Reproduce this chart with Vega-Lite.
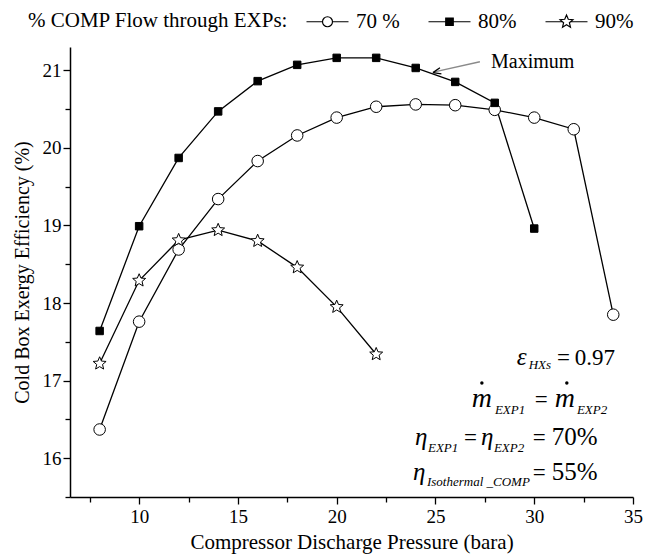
{
  "$schema": "https://vega.github.io/schema/vega-lite/v6.json",
  "width": 563,
  "height": 450,
  "autosize": {"type": "none"},
  "padding": {"left": 70, "top": 47, "right": 13, "bottom": 59},
  "background": "white",
  "config": {"view": {"stroke": null}, "font": "Liberation Serif, Times New Roman, Times, DejaVu Serif, serif"},
  "datasets": {
    "curves": [
      {"series": "70 %", "P": 8, "E": 16.37},
      {"series": "70 %", "P": 10, "E": 17.76},
      {"series": "70 %", "P": 12, "E": 18.69},
      {"series": "70 %", "P": 14, "E": 19.34},
      {"series": "70 %", "P": 16, "E": 19.83},
      {"series": "70 %", "P": 18, "E": 20.16},
      {"series": "70 %", "P": 20, "E": 20.39},
      {"series": "70 %", "P": 22, "E": 20.53},
      {"series": "70 %", "P": 24, "E": 20.56},
      {"series": "70 %", "P": 26, "E": 20.55},
      {"series": "70 %", "P": 28, "E": 20.49},
      {"series": "70 %", "P": 30, "E": 20.39},
      {"series": "70 %", "P": 32, "E": 20.24},
      {"series": "70 %", "P": 34, "E": 17.85},
      {"series": "80%", "P": 8, "E": 17.64},
      {"series": "80%", "P": 10, "E": 18.99},
      {"series": "80%", "P": 12, "E": 19.87},
      {"series": "80%", "P": 14, "E": 20.47},
      {"series": "80%", "P": 16, "E": 20.86},
      {"series": "80%", "P": 18, "E": 21.07},
      {"series": "80%", "P": 20, "E": 21.16},
      {"series": "80%", "P": 22, "E": 21.16},
      {"series": "80%", "P": 24, "E": 21.03},
      {"series": "80%", "P": 26, "E": 20.85},
      {"series": "80%", "P": 28, "E": 20.58},
      {"series": "80%", "P": 30, "E": 18.96},
      {"series": "90%", "P": 8, "E": 17.22},
      {"series": "90%", "P": 10, "E": 18.29},
      {"series": "90%", "P": 12, "E": 18.81},
      {"series": "90%", "P": 14, "E": 18.94},
      {"series": "90%", "P": 16, "E": 18.80},
      {"series": "90%", "P": 18, "E": 18.46},
      {"series": "90%", "P": 20, "E": 17.95},
      {"series": "90%", "P": 22, "E": 17.34}
    ],
    "notes": [
      {"x": 29.12, "y": 17.20, "t": "ε", "k": "gi"},
      {"x": 23.96, "y": 16.17, "t": "η", "k": "gi"},
      {"x": 27.30, "y": 16.17, "t": "η", "k": "gi"},
      {"x": 23.86, "y": 15.72, "t": "η", "k": "gi"},
      {"x": 26.84, "y": 16.66, "t": "m", "k": "m"},
      {"x": 31.04, "y": 16.66, "t": "m", "k": "m"},
      {"x": 29.72, "y": 17.15, "t": "HXs", "k": "sub"},
      {"x": 28.01, "y": 16.57, "t": "EXP1", "k": "sub"},
      {"x": 32.16, "y": 16.57, "t": "EXP2", "k": "sub"},
      {"x": 24.62, "y": 16.08, "t": "EXP1", "k": "sub"},
      {"x": 27.96, "y": 16.08, "t": "EXP2", "k": "sub"},
      {"x": 24.57, "y": 15.64, "t": "Isothermal _COMP", "k": "sub"},
      {"x": 31.15, "y": 17.20, "t": "=", "k": "n"},
      {"x": 32.05, "y": 17.20, "t": "0.97", "k": "n"},
      {"x": 30.03, "y": 16.66, "t": "=", "k": "n"},
      {"x": 26.44, "y": 16.17, "t": "=", "k": "n"},
      {"x": 29.93, "y": 16.17, "t": "=", "k": "n"},
      {"x": 30.89, "y": 16.17, "t": "70%", "k": "big"},
      {"x": 29.93, "y": 15.72, "t": "=", "k": "n"},
      {"x": 30.89, "y": 15.72, "t": "55%", "k": "big"}
    ],
    "dots": [
      {"x": 27.35, "y": 16.97},
      {"x": 31.65, "y": 16.97}
    ],
    "maxlabel": [{"x": 27.81, "y": 21.11, "t": "Maximum"}],
    "arrow": [{"x": 27.25, "y": 21.11, "x2": 24.95, "y2": 20.98}],
    "arrowhead": [{"x": 24.87, "y": 20.97}]
  },
  "layer": [
    {
      "data": {"name": "curves"},
      "mark": {"type": "line", "color": "black", "strokeWidth": 1.3},
      "encoding": {
        "x": {
          "field": "P", "type": "quantitative",
          "scale": {"domain": [6.5, 35], "nice": false, "zero": false},
          "axis": {
            "title": "Compressor Discharge Pressure (bara)",
            "values": [7.5, 10, 12.5, 15, 17.5, 20, 22.5, 25, 27.5, 30, 32.5, 35],
            "format": ".0f",
            "labelExpr": "datum.value % 5 === 0 ? datum.label : ''",
            "tickSize": {"condition": {"test": "datum.value % 5 === 0", "value": 7}, "value": 5},
            "grid": false,
            "domainColor": "black", "domainWidth": 1.5,
            "tickColor": "black", "tickWidth": 1.3,
            "labelFontSize": 19, "labelColor": "black",
            "labelPadding": 3, "labelFlush": false, "labelOverlap": false,
            "titleFontSize": 21, "titleFontWeight": "normal",
            "titleColor": "black", "titlePadding": 5
          }
        },
        "y": {
          "field": "E", "type": "quantitative",
          "scale": {"domain": [15.5, 21.3], "nice": false, "zero": false},
          "axis": {
            "title": "Cold Box Exergy Efficiency (%)",
            "values": [15.5, 16, 16.5, 17, 17.5, 18, 18.5, 19, 19.5, 20, 20.5, 21],
            "format": ".0f",
            "labelExpr": "datum.value % 1 === 0 ? datum.label : ''",
            "tickSize": {"condition": {"test": "datum.value % 1 === 0", "value": 7}, "value": 5},
            "grid": false,
            "domainColor": "black", "domainWidth": 1.5,
            "tickColor": "black", "tickWidth": 1.3,
            "labelFontSize": 19, "labelColor": "black",
            "labelPadding": 2, "labelFlush": false, "labelOverlap": false,
            "titleFontSize": 20, "titleFontWeight": "normal",
            "titleColor": "black", "titlePadding": 10
          }
        },
        "detail": {"field": "series"}
      }
    },
    {
      "data": {"name": "curves"},
      "mark": {"type": "point", "filled": true, "stroke": "black", "strokeWidth": 1, "size": 185, "opacity": 1},
      "encoding": {
        "x": {"field": "P", "type": "quantitative"},
        "y": {"field": "E", "type": "quantitative"},
        "shape": {
          "field": "series", "type": "nominal",
          "scale": {
            "domain": ["70 %", "80%", "90%"],
            "range": [
              "M0.85,0A0.85,0.85 0 1,1 -0.85,0A0.85,0.85 0 1,1 0.85,0Z",
              "M-0.55,-0.55H0.55V0.55H-0.55Z",
              "M0,-1L0.265,-0.364L0.951,-0.309L0.428,0.139L0.588,0.809L0,0.45L-0.588,0.809L-0.428,0.139L-0.951,-0.309L-0.265,-0.364Z"
            ]
          },
          "legend": null
        },
        "fill": {
          "field": "series", "type": "nominal",
          "scale": {"domain": ["70 %", "80%", "90%"], "range": ["white", "black", "white"]},
          "legend": null
        }
      }
    },
    {
      "data": {"name": "curves"},
      "transform": [{"filter": "datum.P > 100"}],
      "mark": {"type": "point", "filled": true, "strokeWidth": 1.2, "opacity": 1},
      "encoding": {
        "x": {"field": "P", "type": "quantitative"},
        "y": {"field": "E", "type": "quantitative"},
        "shape": {
          "field": "series", "type": "nominal",
          "scale": {
            "domain": ["70 %", "80%", "90%"],
            "range": [
              "M-4.2,0H-1M1,0H4.2M1,0A1,1 0 1,1 -1,0A1,1 0 1,1 1,0Z",
              "M-4.2,0H4.2M-0.75,-0.75H0.75V0.75H-0.75Z",
              "M-4.2,0H-0.8M0.8,0H4.2M0,-1.35L0.357,-0.491L1.284,-0.417L0.578,0.188L0.794,1.092L0,0.608L-0.794,1.092L-0.578,0.188L-1.284,-0.417L-0.357,-0.491Z"
            ]
          },
          "legend": {
            "title": "% COMP Flow through EXPs:",
            "orient": "none", "legendX": -42, "legendY": -36,
            "direction": "horizontal", "titleOrient": "left",
            "titleFontSize": 21, "titleFontWeight": "normal", "titleLimit": 500,
            "titleColor": "black", "titlePadding": 28, "titleBaseline": "middle",
            "labelFontSize": 21, "labelColor": "black", "labelLimit": 200,
            "symbolSize": 100, "symbolStrokeWidth": 1.2,
            "symbolOffset": 0, "labelOffset": 18, "columnPadding": 26
          }
        },
        "fill": {
          "field": "series", "type": "nominal",
          "scale": {"domain": ["70 %", "80%", "90%"], "range": ["white", "black", "white"]},
          "legend": {
            "title": "% COMP Flow through EXPs:",
            "orient": "none", "legendX": -42, "legendY": -36,
            "direction": "horizontal", "titleOrient": "left",
            "titleFontSize": 21, "titleFontWeight": "normal", "titleLimit": 500,
            "titleColor": "black", "titlePadding": 28, "titleBaseline": "middle",
            "labelFontSize": 21, "labelColor": "black", "labelLimit": 200,
            "symbolSize": 100, "symbolStrokeWidth": 1.2,
            "symbolOffset": 0, "labelOffset": 18, "columnPadding": 26
          }
        },
        "stroke": {
          "field": "series", "type": "nominal",
          "scale": {"domain": ["70 %", "80%", "90%"], "range": ["black", "black", "black"]},
          "legend": {
            "title": "% COMP Flow through EXPs:",
            "orient": "none", "legendX": -42, "legendY": -36,
            "direction": "horizontal", "titleOrient": "left",
            "titleFontSize": 21, "titleFontWeight": "normal", "titleLimit": 500,
            "titleColor": "black", "titlePadding": 28, "titleBaseline": "middle",
            "labelFontSize": 21, "labelColor": "black", "labelLimit": 200,
            "symbolSize": 100, "symbolStrokeWidth": 1.2,
            "symbolOffset": 0, "labelOffset": 18, "columnPadding": 26
          }
        }
      }
    },
    {
      "data": {"name": "notes"},
      "transform": [{"filter": "datum.k === 'gi'"}],
      "mark": {"type": "text", "fontSize": 25, "fontStyle": "italic", "align": "left", "baseline": "alphabetic", "color": "black"},
      "encoding": {
        "x": {"field": "x", "type": "quantitative"},
        "y": {"field": "y", "type": "quantitative"},
        "text": {"field": "t"}
      }
    },
    {
      "data": {"name": "notes"},
      "transform": [{"filter": "datum.k === 'm'"}],
      "mark": {"type": "text", "fontSize": 28, "fontStyle": "italic", "align": "left", "baseline": "alphabetic", "color": "black"},
      "encoding": {
        "x": {"field": "x", "type": "quantitative"},
        "y": {"field": "y", "type": "quantitative"},
        "text": {"field": "t"}
      }
    },
    {
      "data": {"name": "notes"},
      "transform": [{"filter": "datum.k === 'sub'"}],
      "mark": {"type": "text", "fontSize": 13, "fontStyle": "italic", "align": "left", "baseline": "alphabetic", "color": "black"},
      "encoding": {
        "x": {"field": "x", "type": "quantitative"},
        "y": {"field": "y", "type": "quantitative"},
        "text": {"field": "t"}
      }
    },
    {
      "data": {"name": "notes"},
      "transform": [{"filter": "datum.k === 'n'"}],
      "mark": {"type": "text", "fontSize": 23, "align": "left", "baseline": "alphabetic", "color": "black"},
      "encoding": {
        "x": {"field": "x", "type": "quantitative"},
        "y": {"field": "y", "type": "quantitative"},
        "text": {"field": "t"}
      }
    },
    {
      "data": {"name": "notes"},
      "transform": [{"filter": "datum.k === 'big'"}],
      "mark": {"type": "text", "fontSize": 25, "align": "left", "baseline": "alphabetic", "color": "black"},
      "encoding": {
        "x": {"field": "x", "type": "quantitative"},
        "y": {"field": "y", "type": "quantitative"},
        "text": {"field": "t"}
      }
    },
    {
      "data": {"name": "dots"},
      "mark": {"type": "point", "filled": true, "color": "black", "size": 12, "opacity": 1},
      "encoding": {
        "x": {"field": "x", "type": "quantitative"},
        "y": {"field": "y", "type": "quantitative"}
      }
    },
    {
      "data": {"name": "maxlabel"},
      "mark": {"type": "text", "fontSize": 20, "align": "left", "baseline": "middle", "color": "black"},
      "encoding": {
        "x": {"field": "x", "type": "quantitative"},
        "y": {"field": "y", "type": "quantitative"},
        "text": {"field": "t"}
      }
    },
    {
      "data": {"name": "arrow"},
      "mark": {"type": "rule", "color": "#8a8a8a", "strokeWidth": 1.3},
      "encoding": {
        "x": {"field": "x", "type": "quantitative"},
        "y": {"field": "y", "type": "quantitative"},
        "x2": {"field": "x2"},
        "y2": {"field": "y2"}
      }
    },
    {
      "data": {"name": "arrowhead"},
      "mark": {"type": "point", "filled": false, "shape": "M0,0L2,-0.8M0,0L2,0.8", "size": 64, "angle": 347, "stroke": "black", "strokeWidth": 1.3, "opacity": 1},
      "encoding": {
        "x": {"field": "x", "type": "quantitative"},
        "y": {"field": "y", "type": "quantitative"}
      }
    }
  ],
  "resolve": {"scale": {"shape": "independent", "fill": "independent", "stroke": "independent"}}
}
